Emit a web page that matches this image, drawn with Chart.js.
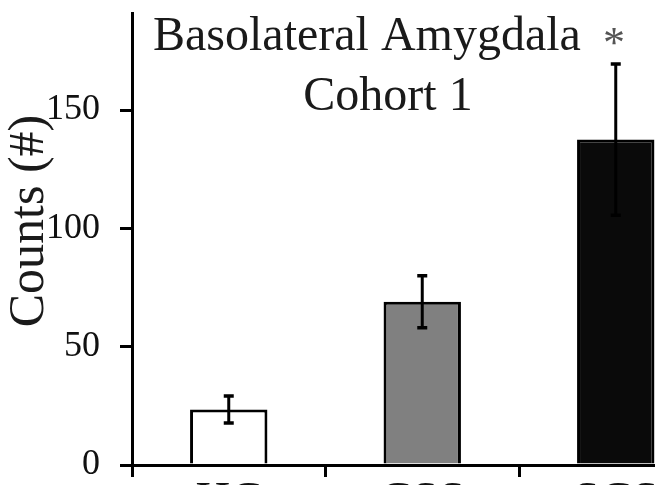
<!DOCTYPE html>
<html>
<head>
<meta charset="utf-8">
<script src="https://cdn.jsdelivr.net/npm/chart.js@4/dist/chart.umd.min.js"></script>
<style>
  body { margin: 0; background: #fff; }
  #wrap { width: 655px; height: 485px; overflow: hidden; position: relative; }
  #countsChart { position: absolute; left: 0; top: 0; }
</style>
</head>
<body>
<div id="wrap"><canvas id="countsChart" width="720" height="520"></canvas></div>
<script>
// data
const groups = ['HC', 'CSS', 'SCS'];
const counts = [23.5, 69, 137.5];
const sem = [5.7, 11, 32];
const barColors = ['#ffffff', '#808080', '#0a0a0a'];
const yTicks = [0, 50, 100, 150];
const titleLines = ['Basolateral Amygdala', 'Cohort 1'];
const titleMark = '*';
const yTitle = 'Counts (#)';

const serif = "'Liberation Serif', 'Times New Roman', serif";

document.addEventListener('DOMContentLoaded', function () {
    // error bars (mean +/- sem), placed through the chart scales
    const errorBars = {
        id: 'errorBars',
        afterDatasetsDraw(chart) {
            const { ctx, scales: { x, y } } = chart;
            ctx.save();
            ctx.strokeStyle = '#000';
            counts.forEach((v, i) => {
                const px = x.getPixelForValue(i);
                const hi = y.getPixelForValue(v + sem[i]);
                const lo = y.getPixelForValue(v - sem[i]);
                ctx.lineWidth = 3;
                ctx.beginPath();
                ctx.moveTo(px, hi); ctx.lineTo(px, lo);
                ctx.stroke();
                ctx.lineWidth = 3.5;
                ctx.beginPath();
                ctx.moveTo(px - 5, hi); ctx.lineTo(px + 5, hi);
                ctx.moveTo(px - 5, lo); ctx.lineTo(px + 5, lo);
                ctx.stroke();
            });
            ctx.restore();
        }
    };

    // title inside the plot + rotated y title
    const titles = {
        id: 'titles',
        afterDraw(chart) {
            const ctx = chart.ctx;
            ctx.save();
            ctx.fillStyle = '#1a1a1a';
            ctx.font = '48px ' + serif;
            ctx.textBaseline = 'alphabetic';
            ctx.textAlign = 'left';
            ctx.fillText(titleLines[0], 153, 50);
            ctx.textAlign = 'center';
            ctx.fillText(titleLines[1], 388, 110);

            // significance mark, smaller and greyer
            ctx.fillStyle = '#555';
            ctx.font = '44px ' + serif;
            ctx.fillText(titleMark, 614, 57);

            ctx.fillStyle = '#1a1a1a';
            ctx.font = '50px ' + serif;
            ctx.translate(43, 221);
            ctx.rotate(-Math.PI / 2);
            ctx.fillText(yTitle, 0, 0);
            ctx.restore();
        }
    };

    new Chart(document.getElementById('countsChart'), {
        type: 'bar',
        data: {
            labels: groups,
            datasets: [{
                data: counts,
                backgroundColor: barColors,
                borderColor: '#000',
                borderWidth: 3,
                borderSkipped: 'bottom',
                barPercentage: 0.4,
                categoryPercentage: 1
            }]
        },
        options: {
            responsive: false,
            animation: false,
            devicePixelRatio: 1,
            layout: { padding: { top: 13, right: 7.5, left: 0, bottom: 0 } },
            plugins: { legend: { display: false }, tooltip: { enabled: false } },
            scales: {
                x: {
                    offset: true,
                    grid: { offset: true, drawOnChartArea: false, drawTicks: true, tickLength: 12, color: '#000', lineWidth: 3 },
                    border: { color: '#000', width: 3 },
                    ticks: { color: '#111', font: { family: serif, size: 48 }, padding: -3, maxRotation: 0 },
                    afterFit: (s) => { s.height = 55; s.paddingLeft = 0; s.paddingRight = 0; }
                },
                y: {
                    min: 0,
                    max: 191,
                    afterBuildTicks: (s) => { s.ticks = yTicks.map(v => ({ value: v })); },
                    grid: { drawOnChartArea: false, drawTicks: true, tickLength: 12, color: '#000', lineWidth: 3 },
                    border: { color: '#000', width: 3 },
                    ticks: { color: '#111', font: { family: serif, size: 36 }, padding: 20 },
                    afterFit: (s) => { s.width = 132; s.paddingTop = 0; s.paddingBottom = 0; }
                }
            }
        },
        plugins: [errorBars, titles]
    });
});
</script>
</body>
</html>
